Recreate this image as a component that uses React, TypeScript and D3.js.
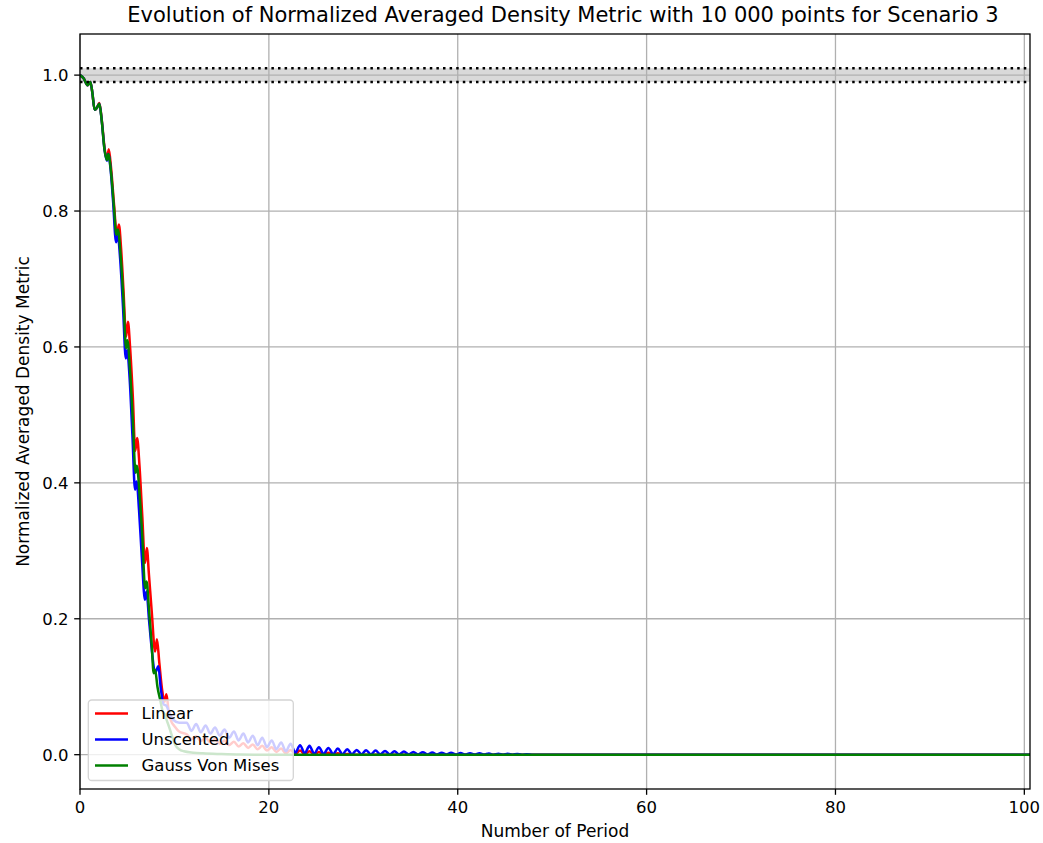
import React from 'react';
import * as d3 from 'd3';

const TITLE = 'Evolution of Normalized Averaged Density Metric with 10 000 points for Scenario 3';
const X_LABEL = 'Number of Period';
const Y_LABEL = 'Normalized Averaged Density Metric';
const xTicks = [0, 20, 40, 60, 80, 100];
const yTicks = [0.0, 0.2, 0.4, 0.6, 0.8, 1.0];
const bandLow = 0.99;
const bandHigh = 1.01;

const linearPoints: [number, number][] = [
  [0, 1.0], [0.4, 0.995], [0.8, 0.985], [1.1, 0.99], [1.3, 0.975], [1.55, 0.949], [1.8, 0.952], [2.05, 0.959],
  [2.3, 0.935], [2.6, 0.893], [2.85, 0.876], [3.05, 0.891], [3.3, 0.862], [3.6, 0.81], [3.9, 0.765], [4.12, 0.78],
  [4.35, 0.745], [4.6, 0.685], [4.88, 0.615], [5.08, 0.637], [5.3, 0.6], [5.6, 0.525], [5.85, 0.447], [6.05, 0.466],
  [6.3, 0.425], [6.6, 0.35], [6.88, 0.282], [7.08, 0.304], [7.3, 0.265], [7.6, 0.21], [7.95, 0.152], [8.15, 0.17],
  [8.4, 0.135], [8.7, 0.095], [8.95, 0.078], [9.15, 0.089], [9.4, 0.062], [9.7, 0.048], [10.0, 0.042], [10.5, 0.034],
  [11.3, 0.03], [11.8, 0.023], [12.3, 0.027], [12.8, 0.02], [13.3, 0.025], [13.8, 0.018], [14.3, 0.023], [14.8, 0.016],
  [15.3, 0.021], [15.8, 0.014], [16.3, 0.019], [16.8, 0.012], [17.3, 0.017], [17.8, 0.01], [18.3, 0.015], [18.8, 0.008],
  [19.3, 0.013], [19.8, 0.006], [20.3, 0.011], [20.8, 0.004], [21.3, 0.009], [21.8, 0.002], [22.3, 0.007], [22.8, 0.001],
  [23.3, 0.006], [23.8, 0.0005], [24.3, 0.005], [24.8, 0.0003], [25.3, 0.004], [25.8, 0.0002], [26.3, 0.003], [26.8, 0.0001],
  [27.3, 0.002], [27.8, 0.0], [28.3, 0.001], [29.0, 0.0], [100.6, 0.0],
];

const unscentedPoints: [number, number][] = [
  [0, 1.0], [0.4, 0.995], [0.8, 0.985], [1.1, 0.99], [1.3, 0.975], [1.55, 0.949], [1.8, 0.952], [2.05, 0.958],
  [2.3, 0.933], [2.6, 0.89], [2.85, 0.874], [3.0, 0.884], [3.25, 0.86], [3.5, 0.815], [3.82, 0.754], [4.0, 0.765],
  [4.25, 0.73], [4.55, 0.66], [4.85, 0.583], [5.0, 0.595], [5.25, 0.555], [5.55, 0.47], [5.83, 0.39], [6.0, 0.402],
  [6.25, 0.36], [6.55, 0.29], [6.88, 0.228], [7.05, 0.24], [7.3, 0.2], [7.6, 0.155], [7.95, 0.12], [8.3, 0.13],
  [8.55, 0.098], [8.85, 0.074], [9.15, 0.072], [9.5, 0.06], [9.9, 0.051], [10.5, 0.047], [11.3, 0.047], [11.8, 0.035],
  [12.3, 0.045], [12.8, 0.033], [13.3, 0.043], [13.8, 0.031], [14.3, 0.04], [14.8, 0.028], [15.3, 0.037], [15.8, 0.025],
  [16.3, 0.034], [16.8, 0.021], [17.3, 0.031], [17.8, 0.018], [18.3, 0.028], [18.8, 0.014], [19.3, 0.025], [19.8, 0.011],
  [20.3, 0.021], [20.8, 0.008], [21.3, 0.018], [21.8, 0.005], [22.3, 0.016], [22.8, 0.003], [23.3, 0.014], [23.8, 0.002],
  [24.3, 0.013], [24.8, 0.0015], [25.3, 0.011], [25.8, 0.001], [26.3, 0.01], [26.8, 0.001], [27.3, 0.009], [27.8, 0.0008],
  [28.3, 0.008], [28.8, 0.0007], [29.3, 0.007], [29.8, 0.0006], [30.3, 0.0065], [30.8, 0.0005], [31.3, 0.006], [31.8, 0.0005],
  [32.3, 0.0055], [32.8, 0.0004], [33.3, 0.005], [33.8, 0.0004], [34.3, 0.0045], [34.8, 0.0003], [35.3, 0.004], [35.8, 0.0003],
  [36.3, 0.0036], [36.8, 0.0003], [37.3, 0.0033], [37.8, 0.0002], [38.3, 0.003], [38.8, 0.0002], [39.3, 0.0028], [39.8, 0.0002],
  [40.3, 0.0025], [40.8, 0.0001], [41.3, 0.0022], [41.8, 0.0001], [42.3, 0.002], [42.8, 0.0001], [43.3, 0.0018], [43.8, 0.0],
  [44.3, 0.0015], [44.8, 0.0], [45.3, 0.0012], [45.8, 0.0], [46.3, 0.001], [46.8, 0.0], [47.3, 0.0008], [48.0, 0.0],
  [100.6, 0.0],
];

const gaussPoints: [number, number][] = [
  [0, 1.0], [0.4, 0.995], [0.8, 0.985], [1.1, 0.99], [1.3, 0.975], [1.55, 0.949], [1.8, 0.952], [2.05, 0.958],
  [2.3, 0.933], [2.6, 0.89], [2.85, 0.875], [3.0, 0.884], [3.3, 0.855], [3.6, 0.805], [3.85, 0.765], [4.02, 0.773],
  [4.3, 0.735], [4.6, 0.67], [4.88, 0.598], [5.02, 0.61], [5.3, 0.565], [5.6, 0.49], [5.88, 0.415], [6.02, 0.425],
  [6.3, 0.385], [6.6, 0.32], [6.9, 0.245], [7.05, 0.255], [7.3, 0.215], [7.6, 0.16], [7.8, 0.12], [7.95, 0.125],
  [8.2, 0.1], [8.5, 0.08], [8.8, 0.062], [8.95, 0.06], [9.2, 0.05], [9.5, 0.038], [9.8, 0.025], [10.1, 0.014],
  [10.5, 0.008], [11.0, 0.005], [12.0, 0.003], [13.0, 0.002], [15.0, 0.001], [17.0, 0.0003], [20.0, 0.0], [100.6, 0.0],
];

const seriesNames = ['Linear', 'Unscented', 'Gauss Von Mises'];
const seriesColors = ['#ff0000', '#0000ff', '#008000'];
const seriesData = [linearPoints, unscentedPoints, gaussPoints];

const L = 80, R = 1030, T = 34, B = 789;
const FONT = 'DejaVu Sans, sans-serif';
const FS = 16.5;
const FS_LABEL = 17;
const FS_TITLE = 21;

export default function App() {
  const x = d3.scaleLinear().domain([0, 100.6]).range([L, R]);
  const y = d3.scaleLinear().domain([-0.0505, 1.0605]).range([B, T]);
  const line = d3
    .line<[number, number]>()
    .x((d) => x(d[0]))
    .y((d) => y(d[1]))
    .curve(d3.curveMonotoneX);

  const legX = 88.3, legY = 700, legW = 205, legH = 80.5;
  const rowY = [713.5, 739.5, 765.5];

  return (
    <svg
      width={1043}
      height={843}
      style={{ position: 'absolute', left: 0, top: 0, background: '#fff' }}
      fontFamily={FONT}
    >
      <rect x={0} y={0} width={1043} height={843} fill="#fff" />
      <defs>
        <clipPath id="plotclip">
          <rect x={L} y={T} width={R - L} height={B - T} />
        </clipPath>
      </defs>
      <rect
        x={L}
        y={y(bandHigh)}
        width={R - L}
        height={y(bandLow) - y(bandHigh)}
        fill="#808080"
        fillOpacity={0.3}
      />
      {xTicks.map((t) => (
        <line key={'gx' + t} x1={x(t)} x2={x(t)} y1={T} y2={B} stroke="#b0b0b0" strokeWidth={1.3} />
      ))}
      {yTicks.map((t) => (
        <line key={'gy' + t} x1={L} x2={R} y1={y(t)} y2={y(t)} stroke="#b0b0b0" strokeWidth={1.3} />
      ))}
      <g clipPath="url(#plotclip)">
        {seriesData.map((d, i) => (
          <path
            key={seriesNames[i]}
            d={line(d) || ''}
            fill="none"
            stroke={seriesColors[i]}
            strokeWidth={2.5}
            strokeLinejoin="round"
            strokeLinecap="butt"
          />
        ))}
        {[bandHigh, bandLow].map((v) => (
          <line
            key={'dl' + v}
            x1={L}
            x2={R}
            y1={y(v)}
            y2={y(v)}
            stroke="#000"
            strokeWidth={2.5}
            strokeDasharray="2.5 4.1"
          />
        ))}
      </g>
      <rect x={L} y={T} width={R - L} height={B - T} fill="none" stroke="#000" strokeWidth={1.3} />
      {xTicks.map((t) => (
        <g key={'xt' + t}>
          <line x1={x(t)} x2={x(t)} y1={B} y2={B + 5.8} stroke="#000" strokeWidth={1.3} />
          <text x={x(t)} y={B + 24} textAnchor="middle" fontSize={FS} fill="#000">
            {t}
          </text>
        </g>
      ))}
      {yTicks.map((t) => (
        <g key={'yt' + t}>
          <line x1={L - 5.8} x2={L} y1={y(t)} y2={y(t)} stroke="#000" strokeWidth={1.3} />
          <text x={L - 11.6} y={y(t)} dy="0.36em" textAnchor="end" fontSize={FS} fill="#000">
            {t.toFixed(1)}
          </text>
        </g>
      ))}
      <text x={(L + R) / 2} y={837} textAnchor="middle" fontSize={FS_LABEL} fill="#000">
        {X_LABEL}
      </text>
      <text
        transform={`translate(29, ${(T + B) / 2}) rotate(-90)`}
        textAnchor="middle"
        fontSize={FS_LABEL}
        fill="#000"
      >
        {Y_LABEL}
      </text>
      <text x={(L + R) / 2 + 8} y={22} textAnchor="middle" fontSize={FS_TITLE} fill="#000">
        {TITLE}
      </text>
      <rect
        x={legX}
        y={legY}
        width={legW}
        height={legH}
        rx={3.5}
        ry={3.5}
        fill="#fff"
        fillOpacity={0.8}
        stroke="#d4d4d4"
        strokeWidth={1.3}
      />
      {seriesNames.map((n, i) => (
        <g key={'lg' + n}>
          <line x1={95} x2={128} y1={rowY[i]} y2={rowY[i]} stroke={seriesColors[i]} strokeWidth={2.5} />
          <text x={141.5} y={rowY[i]} dy="0.36em" fontSize={FS} fill="#000">
            {n}
          </text>
        </g>
      ))}
    </svg>
  );
}
